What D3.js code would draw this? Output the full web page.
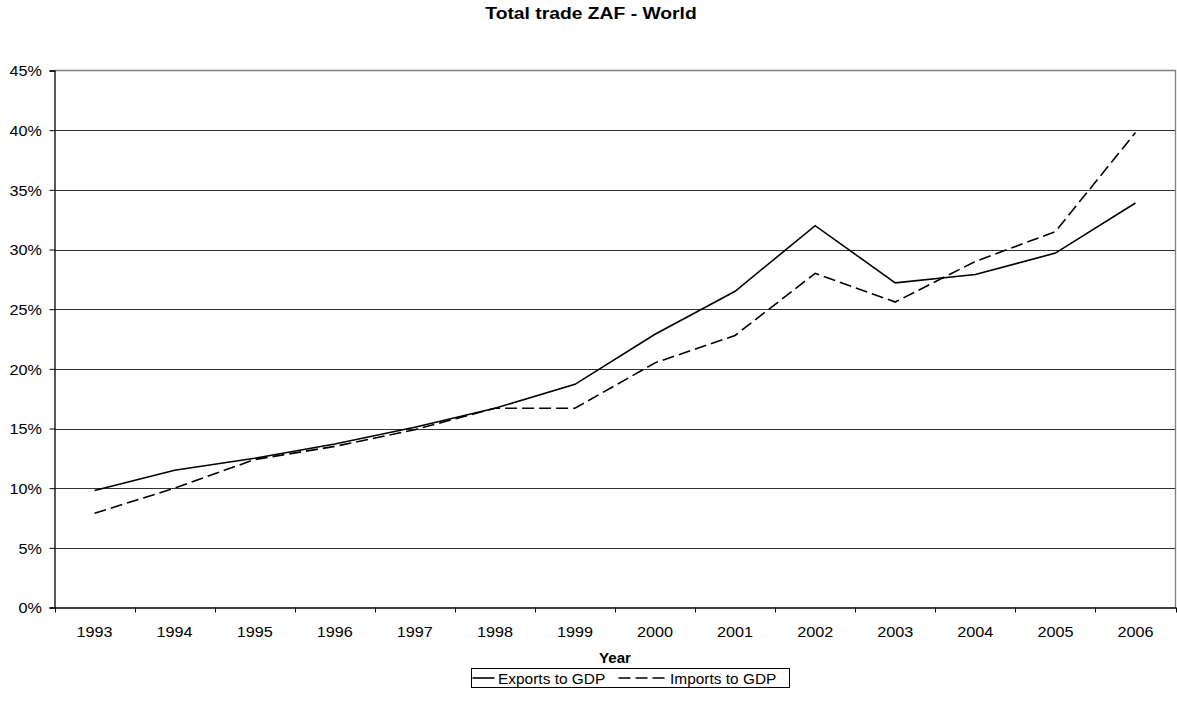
<!DOCTYPE html>
<html>
<head>
<meta charset="utf-8">
<script src="https://cdn.jsdelivr.net/npm/d3@7"></script>
<style>
  html, body { margin: 0; padding: 0; background: #fff; }
  svg { display: block; font-family: "Liberation Sans", Arial, sans-serif; }
</style>
</head>
<body>
<svg id="chart" width="1177" height="713"></svg>
<script>
// Trade shares of GDP, South Africa vs. world, in percent
const years = ["1993","1994","1995","1996","1997","1998","1999","2000","2001","2002","2003","2004","2005","2006"];
const exportsToGDP = [9.8, 11.5, 12.5, 13.7, 15.1, 16.7, 18.7, 22.9, 26.5, 32.0, 27.2, 27.9, 29.7, 33.9];
const importsToGDP = [7.9, 10.0, 12.4, 13.5, 14.9, 16.7, 16.7, 20.5, 22.8, 28.0, 25.6, 29.0, 31.5, 39.8];
const yTicks = [0, 5, 10, 15, 20, 25, 30, 35, 40, 45];
const seriesNames = ["Exports to GDP", "Imports to GDP"];

const FONT = "Liberation Sans, Arial, sans-serif";
const SX = 1.08; // text is drawn slightly wide

const svg = d3.select("#chart");
const m = { left: 54.5, right: 1175.5, top: 70.5, bottom: 607.5 };

const x = d3.scaleBand().domain(years).range([m.left, m.right]);
const y = d3.scaleLinear().domain([0, 45]).range([m.bottom, m.top]);

// horizontal gridlines
svg.append("g")
  .selectAll("line")
  .data(yTicks.filter(d => d > 0 && d < 45))
  .join("line")
  .attr("x1", m.left).attr("x2", m.right)
  .attr("y1", d => Math.round(y(d)) + 0.5).attr("y2", d => Math.round(y(d)) + 0.5)
  .attr("stroke", "#333").attr("stroke-width", 1);

// plot frame (top and right in grey)
svg.append("path")
  .attr("d", `M${m.left},${m.top}H${m.right}V${m.bottom}`)
  .attr("fill", "none").attr("stroke", "#808080").attr("stroke-width", 1.3);

// y axis
const yAxis = svg.append("g")
  .attr("transform", `translate(${m.left},0)`)
  .call(d3.axisLeft(y).tickValues(yTicks).tickFormat(d => d + "%").tickSize(5).tickPadding(8));
yAxis.select(".domain").attr("stroke", "#000").attr("stroke-width", 1.3);
yAxis.selectAll(".tick line").attr("stroke", "#000");
yAxis.selectAll("text")
  .attr("font-size", 15).attr("fill", "#000").attr("font-family", FONT)
  .attr("x", 0).attr("dy", "0.36em")
  .attr("transform", `translate(-12.5,0) scale(${SX},1)`);

// x axis: ticks between categories
const xAxis = svg.append("g")
  .attr("transform", `translate(0,${m.bottom})`)
  .call(d3.axisBottom(x).tickSize(0).tickPadding(0));
xAxis.select(".domain").attr("stroke", "#000").attr("stroke-width", 1.3);
xAxis.selectAll("text")
  .attr("font-size", 15).attr("fill", "#000").attr("font-family", FONT)
  .attr("y", 0).attr("dy", 0)
  .attr("transform", `translate(0,29.5) scale(${SX},1)`);
const edges = years.map(d => x(d)).concat([x(years[years.length - 1]) + x.bandwidth()]);
svg.append("g")
  .selectAll("line")
  .data(edges)
  .join("line")
  .attr("x1", d => Math.round(d) + 0.5).attr("x2", d => Math.round(d) + 0.5)
  .attr("y1", m.bottom).attr("y2", m.bottom + 5)
  .attr("stroke", "#000");

// series lines
const line = d3.line()
  .x((d, i) => x(years[i]) + x.bandwidth() / 2)
  .y(d => y(d));

svg.append("path")
  .datum(exportsToGDP)
  .attr("d", line)
  .attr("fill", "none").attr("stroke", "#000").attr("stroke-width", 1.6);

svg.append("path")
  .datum(importsToGDP)
  .attr("d", line)
  .attr("fill", "none").attr("stroke", "#000").attr("stroke-width", 1.6)
  .attr("stroke-dasharray", "12,5");

// title and axis title
svg.append("text")
  .attr("transform", `translate(591,19) scale(1.17,1)`)
  .attr("text-anchor", "middle")
  .attr("font-size", 16.5).attr("font-weight", "bold").attr("font-family", FONT)
  .text("Total trade ZAF - World");

svg.append("text")
  .attr("transform", `translate(615,663) scale(${SX},1)`)
  .attr("text-anchor", "middle")
  .attr("font-size", 14).attr("font-weight", "bold").attr("font-family", FONT)
  .text("Year");

// legend
const lg = svg.append("g").attr("transform", "translate(471.5,668.5)");
lg.append("rect")
  .attr("width", 318).attr("height", 19)
  .attr("fill", "#fff").attr("stroke", "#000").attr("stroke-width", 1);
const items = [
  { name: seriesNames[0], dash: null, x0: 1, len: 22, tx: 26.5 },
  { name: seriesNames[1], dash: "12,5", x0: 147, len: 47, tx: 198.5 }
];
items.forEach(it => {
  lg.append("line")
    .attr("x1", it.x0).attr("x2", it.x0 + it.len)
    .attr("y1", 9.5).attr("y2", 9.5)
    .attr("stroke", "#000").attr("stroke-width", 1.6)
    .attr("stroke-dasharray", it.dash);
  lg.append("text")
    .attr("transform", `translate(${it.tx},15) scale(1.03,1)`)
    .attr("font-size", 15).attr("font-family", FONT)
    .text(it.name);
});
</script>
</body>
</html>
